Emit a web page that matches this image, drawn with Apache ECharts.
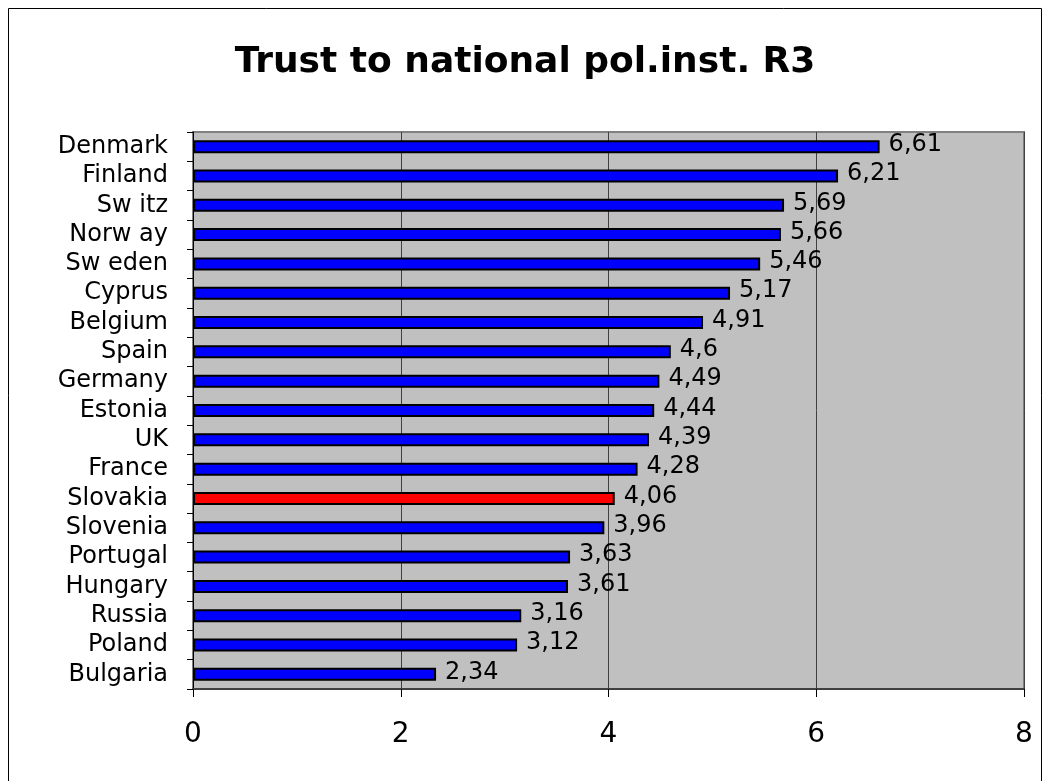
<!DOCTYPE html>
<html><head><meta charset="utf-8">
<script src="https://cdn.jsdelivr.net/npm/echarts@6/dist/echarts.min.js"></script>
<style>html,body{margin:0;padding:0;background:#fff}#c{width:1050px;height:781px}</style>
</head><body><div id="c"></div>
<script>
const categories = ['Denmark','Finland','Sw itz','Norw ay','Sw eden','Cyprus','Belgium','Spain','Germany','Estonia','UK','France','Slovakia','Slovenia','Portugal','Hungary','Russia','Poland','Bulgaria'];
const values = [6.61,6.21,5.69,5.66,5.46,5.17,4.91,4.6,4.49,4.44,4.39,4.28,4.06,3.96,3.63,3.61,3.16,3.12,2.34];
const highlight = 'Slovakia';
const xTicks = [0,2,4,6,8];

const chart = echarts.init(document.getElementById('c'));
const F = 'DejaVu Sans, sans-serif';
chart.setOption({
  animation:false,
  backgroundColor:'#fff',
  graphic:[{type:'rect',shape:{x:8.5,y:8.5,width:1033,height:800},style:{fill:'none',stroke:'#000',lineWidth:1}}],
  title:{text:'Trust to national pol.inst. R3',left:'center',top:40,textStyle:{fontFamily:F,fontSize:36,fontWeight:'bold',color:'#000'}},
  grid:{left:193,top:132,right:26,bottom:92,show:true,backgroundColor:'#C0C0C0',borderColor:'#808080',borderWidth:2},
  xAxis:{type:'value',min:xTicks[0],max:xTicks[xTicks.length-1],interval:2,
    axisLine:{show:true,lineStyle:{color:'#404040',width:2}},
    axisTick:{show:true,length:8,lineStyle:{color:'#000'}},
    axisLabel:{margin:32,fontFamily:F,fontSize:28,color:'#000'},
    splitLine:{show:true,lineStyle:{color:'#404040',width:1}}},
  yAxis:{type:'category',data:categories,inverse:true,
    axisLine:{show:true,lineStyle:{color:'#000',width:1}},
    axisTick:{show:true,length:6,lineStyle:{color:'#000'}},
    axisLabel:{interval:0,margin:25,fontFamily:F,fontSize:24,color:'#000',padding:[0,0,5,0]}},
  series:[{type:'bar',barWidth:13,
    data:values.map((v,i)=>({value:v,itemStyle:{color:categories[i]===highlight?'#FF0000':'#0000FF'}})),
    itemStyle:{borderColor:'#000',borderWidth:2},
    label:{show:true,position:'right',distance:9,offset:[0,-2],fontFamily:F,fontSize:24,color:'#000',
      formatter:p=>String(p.value).replace('.',',')}}]
});
</script></body></html>
